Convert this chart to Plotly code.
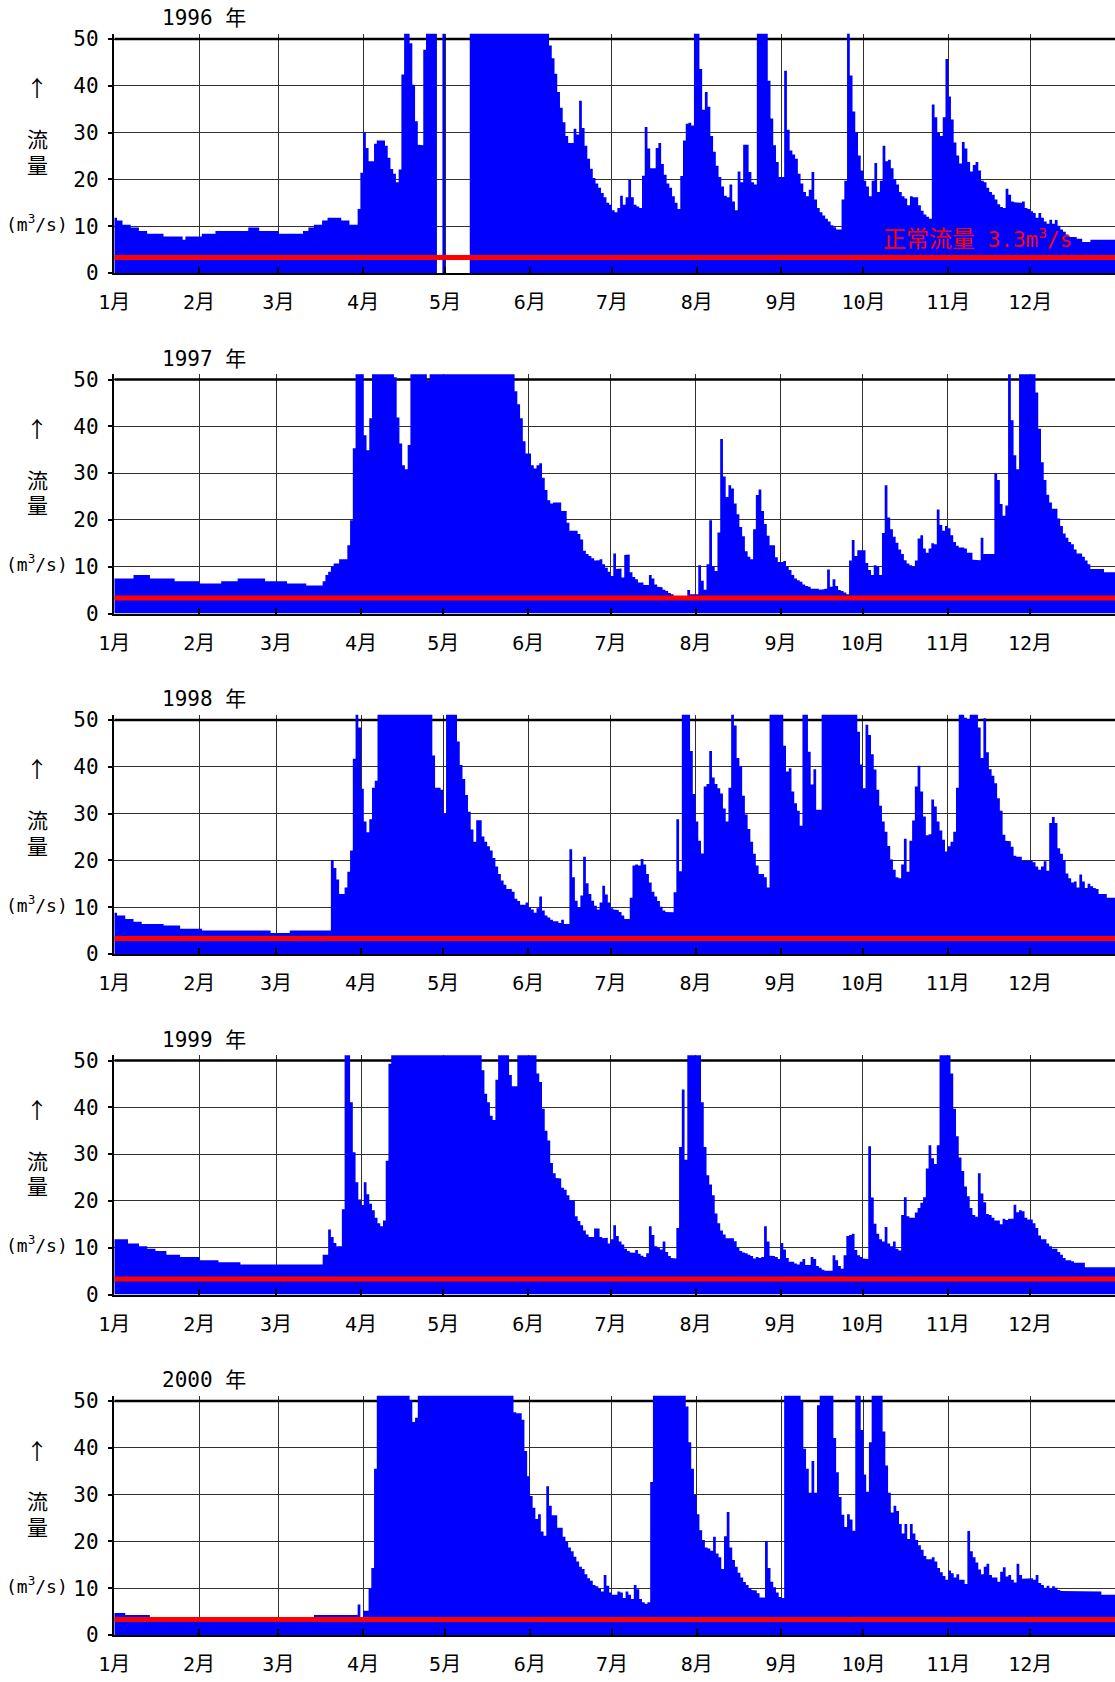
import calendar
import plotly.graph_objects as go

years = [1996, 1997, 1998, 1999, 2000]
month_labels = ["1月", "2月", "3月", "4月", "5月", "6月", "7月", "8月", "9月", "10月", "11月", "12月"]
y_ticks = [0, 10, 20, 30, 40, 50]
normal_flow = 3.3
normal_label = '<span style="font-family:Noto Sans CJK JP;font-size:23px">正常流量</span> 3.3m<sup>3</sup>/s'
y_title_parts = ["↑", "流", "量", "(m<sup>3</sup>/s)"]

# daily flow (m3/s), one list per month; values above 50 run off the chart
flow_1996 = [
    [11.8, 11.2, 11.2, 10.3, 10.3, 10.3, 9.7, 9.7, 9.7, 9.0, 9.0, 9.0, 8.4, 8.4, 8.4, 8.4, 8.4, 8.4, 7.8, 7.8, 7.8, 7.8, 7.8, 7.8, 7.8, 7.1, 7.8, 7.8, 7.8, 7.8, 7.8],
    [7.8, 8.4, 8.4, 8.4, 8.4, 8.4, 9.0, 9.0, 9.0, 9.0, 9.0, 9.0, 9.0, 9.0, 9.0, 9.0, 9.0, 9.0, 9.7, 9.7, 9.7, 9.7, 9.0, 9.0, 9.0, 9.0, 9.0, 9.0, 9.0],
    [8.4, 8.4, 8.4, 8.4, 8.4, 8.4, 8.4, 8.4, 8.4, 9.0, 9.0, 9.7, 9.7, 10.3, 10.3, 10.3, 11.2, 11.2, 11.8, 11.8, 11.8, 11.8, 11.8, 11.2, 11.2, 11.2, 10.3, 10.3, 10.3, 13.7, 21.4],
    [30.1, 26.7, 23.9, 23.9, 27.6, 28.3, 28.3, 28.3, 27.2, 24.6, 22.2, 21.2, 19.4, 22.1, 42.4, 55, 55, 49.1, 40.2, 32.4, 27.4, 27.3, 47.7, 55, 55, 55, 55, None, None, 55],
    [None, None, None, None, None, None, None, None, None, 55, 55, 55, 55, 55, 55, 55, 55, 55, 55, 55, 55, 55, 55, 55, 55, 55, 55, 55, 55, 55, 55],
    [55, 55, 55, 55, 55, 55, 55, 48.6, 45.9, 42.6, 38.7, 35.3, 32.2, 29.3, 27.8, 27.8, 30.8, 29.6, 36.8, 31.0, 27.2, 24.4, 22.3, 20.3, 19.1, 18.2, 17.1, 16.2, 15.0, 14.6],
    [13.4, 13.0, 13.9, 16.5, 14.6, 16.2, 19.9, 16.2, 14.6, 14.2, 13.9, 20.8, 31.2, 26.6, 22.4, 22.4, 26.7, 27.8, 23.3, 21.0, 19.1, 18.2, 16.4, 15.0, 13.7, 20.7, 28.3, 31.9, 32.1, 31.5, 55],
    [55, 43.6, 34.9, 38.7, 35.5, 29.3, 25.9, 22.9, 20.5, 18.5, 16.5, 16.2, 18.9, 15.3, 13.4, 21.7, 19.4, 27.4, 27.4, 21.6, 19.4, 18.9, 55, 55, 55, 55, 41.1, 33.0, 27.3, 23.7, 20.5],
    [20.5, 43.2, 30.6, 26.2, 25.3, 24.4, 21.2, 19.1, 17.3, 16.4, 17.8, 21.6, 15.7, 13.9, 13.0, 12.3, 11.6, 11.0, 10.2, 9.8, 9.3, 9.3, 15.7, 19.7, 55, 42.2, 34.5, 30.1, 25.1, 21.9],
    [19.7, 18.5, 16.4, 19.7, 23.5, 17.3, 19.7, 27.2, 23.9, 24.2, 22.4, 20.1, 18.9, 17.3, 16.4, 15.9, 14.5, 16.4, 16.2, 16.2, 14.5, 13.3, 12.5, 12.0, 11.6, 36.0, 33.3, 29.9, 29.3, 33.3, 45.7],
    [37.7, 32.8, 27.9, 25.1, 23.4, 28.0, 26.6, 23.7, 21.7, 23.1, 23.7, 21.9, 19.7, 19.4, 18.2, 17.3, 16.7, 15.7, 14.7, 14.1, 13.9, 18.0, 16.7, 15.3, 15.1, 15.1, 15.0, 15.3, 13.9, 13.7],
    [13.2, 12.8, 11.8, 12.8, 11.8, 11.0, 10.5, 11.4, 10.5, 11.3, 10.1, 9.3, 8.8, 8.2, 7.7, 7.7, 7.7, 7.3, 7.3, 6.6, 6.6, 6.6, 7.1, 7.1, 7.1, 7.1, 7.1, 7.1, 7.1, 7.1, 7.1],
]

flow_1997 = [
    [7.5, 7.5, 7.5, 7.5, 7.5, 7.5, 7.5, 8.2, 8.2, 8.2, 8.2, 8.2, 8.2, 7.5, 7.5, 7.5, 7.5, 7.5, 7.5, 7.5, 7.5, 7.5, 6.9, 6.9, 6.9, 6.9, 6.9, 6.9, 6.9, 6.9, 6.9],
    [6.4, 6.4, 6.4, 6.4, 6.4, 6.4, 6.4, 6.4, 6.9, 6.9, 6.9, 6.9, 6.9, 6.9, 7.5, 7.5, 7.5, 7.5, 7.5, 7.5, 7.5, 7.5, 7.5, 7.5, 6.9, 6.9, 6.9, 6.9],
    [6.9, 6.9, 6.9, 6.9, 6.4, 6.4, 6.4, 6.4, 6.4, 6.4, 6.4, 6.0, 6.0, 6.0, 6.0, 6.0, 6.0, 6.9, 8.2, 8.9, 10.1, 10.7, 10.7, 11.6, 11.6, 11.6, 14.6, 19.9, 35.3, 55, 55],
    [55, 38.1, 34.9, 41.7, 55, 55, 55, 55, 55, 55, 55, 55, 50.5, 41.9, 36.3, 31.7, 30.8, 36.0, 55, 55, 55, 55, 55, 55, 49.7, 55, 55, 55, 55, 55],
    [55, 55, 55, 55, 55, 55, 55, 55, 55, 55, 55, 55, 55, 55, 55, 55, 55, 55, 55, 55, 55, 55, 55, 55, 55, 55, 47.5, 44.7, 41.7, 36.8, 34.2],
    [34.2, 31.7, 31.0, 31.7, 32.1, 29.0, 26.4, 24.2, 23.5, 23.7, 23.7, 23.7, 21.9, 21.9, 19.4, 17.7, 17.7, 17.7, 17.0, 15.8, 13.4, 12.7, 12.3, 11.8, 11.3, 11.4, 11.6, 10.5, 9.8, 8.9],
    [8.0, 12.8, 9.5, 9.6, 7.7, 12.5, 12.6, 8.8, 7.8, 7.3, 6.6, 6.6, 6.1, 6.1, 8.2, 7.5, 6.2, 5.7, 5.6, 5.1, 4.8, 4.4, 4.1, 3.7, 3.6, 3.6, 3.6, 3.6, 5.0, 4.1, 4.1],
    [4.1, 10.3, 7.0, 5.1, 10.5, 19.9, 10.1, 9.1, 17.3, 37.3, 29.3, 24.9, 27.4, 26.7, 23.5, 21.2, 18.5, 16.5, 13.3, 12.1, 11.6, 18.0, 25.3, 26.5, 21.9, 19.1, 16.6, 14.6, 14.6, 12.0, 11.0],
    [11.0, 11.2, 10.0, 9.3, 8.2, 7.5, 7.1, 6.8, 6.2, 5.9, 5.7, 5.3, 5.3, 5.3, 5.1, 5.2, 5.3, 9.4, 5.7, 7.3, 5.9, 5.0, 4.8, 4.5, 4.1, 11.3, 15.7, 12.3, 13.5, 13.5],
    [13.5, 10.8, 9.3, 8.2, 10.3, 10.1, 8.2, 17.2, 27.4, 20.5, 18.0, 16.4, 15.1, 13.7, 12.7, 11.4, 10.7, 10.3, 10.0, 11.3, 16.0, 16.7, 13.9, 13.0, 13.9, 15.0, 14.8, 22.2, 18.9, 17.7, 18.7],
    [18.2, 16.7, 15.3, 14.5, 14.1, 14.1, 13.9, 13.0, 13.0, 11.5, 11.5, 11.4, 16.2, 12.7, 12.7, 12.8, 12.7, 29.9, 28.5, 23.4, 20.9, 23.1, 55, 41.3, 33.8, 30.8, 55, 55, 55, 55],
    [55, 55, 47.2, 39.5, 32.3, 28.5, 25.4, 23.7, 22.4, 22.4, 20.3, 18.7, 17.1, 16.2, 15.3, 14.8, 13.7, 12.8, 12.8, 12.1, 11.3, 10.5, 9.5, 9.5, 9.5, 9.5, 9.5, 8.8, 8.8, 8.8, 8.8],
]

flow_1998 = [
    [8.8, 8.2, 8.2, 8.2, 7.5, 7.5, 7.5, 6.9, 6.9, 6.9, 6.4, 6.4, 6.4, 6.4, 6.4, 6.4, 6.4, 6.4, 6.1, 6.1, 6.1, 6.1, 6.1, 6.1, 5.4, 5.4, 5.4, 5.4, 5.4, 5.4, 5.4],
    [5.4, 5.0, 5.0, 5.0, 5.0, 5.0, 5.0, 5.0, 5.0, 5.0, 5.0, 5.0, 5.0, 5.0, 5.0, 5.0, 5.0, 5.0, 5.0, 5.0, 5.0, 5.0, 5.0, 5.0, 5.0, 5.0, 4.5, 4.5],
    [4.5, 4.5, 4.5, 4.5, 4.5, 5.0, 5.0, 5.0, 5.0, 5.0, 5.0, 5.0, 5.0, 5.0, 5.0, 5.0, 5.0, 5.0, 5.0, 5.0, 20.1, 18.4, 15.9, 12.8, 12.8, 14.2, 17.6, 22.1, 41.7, 55, 48.4],
    [35.3, 28.3, 26.0, 28.8, 35.5, 37.0, 55, 55, 55, 55, 55, 55, 55, 55, 55, 55, 55, 55, 55, 55, 55, 55, 55, 55, 55, 55, 42.4, 35.5, 35.5, 35.1],
    [29.9, 55, 55, 55, 55, 45.4, 40.4, 37.4, 34.0, 30.4, 26.6, 24.0, 28.6, 28.6, 25.1, 24.0, 23.0, 22.1, 20.5, 18.7, 17.1, 15.7, 14.8, 13.9, 13.9, 13.3, 11.8, 11.3, 10.5, 10.5, 11.0],
    [10.0, 9.5, 8.8, 9.8, 12.3, 9.3, 8.2, 7.8, 7.3, 7.0, 7.0, 6.6, 7.3, 6.4, 6.4, 22.4, 16.4, 11.4, 10.0, 12.5, 20.8, 15.1, 12.8, 11.4, 10.3, 9.5, 11.0, 14.6, 12.7, 11.0],
    [9.8, 9.5, 9.4, 9.0, 8.2, 7.5, 7.5, 12.0, 18.9, 19.1, 18.9, 20.3, 19.1, 17.1, 15.3, 13.3, 12.3, 11.3, 10.1, 9.3, 9.0, 8.9, 8.9, 13.2, 28.8, 17.7, 55, 55, 55, 43.4, 34.2],
    [28.3, 24.2, 21.5, 35.8, 36.3, 43.4, 37.7, 36.3, 35.4, 34.3, 31.1, 28.3, 35.5, 55, 48.8, 41.9, 40.1, 33.8, 29.8, 26.7, 24.0, 21.4, 18.9, 17.1, 17.1, 16.4, 14.2, 55, 55, 55, 55],
    [55, 44.5, 39.0, 39.7, 34.7, 32.2, 30.6, 27.4, 55, 55, 43.2, 36.2, 39.5, 30.8, 30.8, 55, 55, 55, 55, 55, 55, 55, 55, 55, 55, 55, 55, 55, 47.5, 40.5],
    [35.4, 49.0, 46.8, 42.7, 39.4, 35.1, 31.7, 28.3, 26.1, 23.1, 20.2, 18.0, 16.4, 16.2, 19.1, 24.6, 17.6, 24.2, 28.5, 35.8, 40.2, 34.7, 29.4, 25.4, 25.6, 33.0, 31.5, 28.3, 26.4, 24.4, 21.9],
    [23.0, 24.0, 26.1, 35.5, 55, 55, 50.5, 50.1, 55, 55, 55, 48.4, 41.9, 50.4, 43.1, 39.5, 38.1, 36.5, 33.3, 30.6, 25.5, 24.2, 24.1, 22.9, 21.0, 20.8, 20.8, 19.9, 19.9, 19.9],
    [19.9, 19.6, 18.7, 18.0, 18.7, 19.8, 17.8, 28.0, 29.3, 28.0, 22.6, 21.4, 20.1, 17.2, 16.2, 15.3, 15.5, 14.2, 17.0, 15.5, 14.1, 15.0, 14.5, 14.1, 13.9, 12.8, 12.8, 12.8, 12.0, 12.0, 12.0],
]

flow_1999 = [
    [11.8, 11.8, 11.8, 11.8, 11.8, 10.9, 10.9, 10.9, 10.9, 10.3, 10.3, 10.3, 9.8, 9.8, 9.8, 9.3, 9.3, 9.3, 9.3, 8.5, 8.5, 8.5, 8.5, 8.5, 8.0, 8.0, 8.0, 8.0, 8.0, 8.0, 8.0],
    [7.3, 7.3, 7.3, 7.3, 7.3, 7.3, 7.3, 6.9, 6.9, 6.9, 6.9, 6.9, 6.9, 6.9, 6.9, 6.4, 6.4, 6.4, 6.4, 6.4, 6.4, 6.4, 6.4, 6.4, 6.4, 6.4, 6.4, 6.4],
    [6.4, 6.4, 6.4, 6.4, 6.4, 6.4, 6.4, 6.4, 6.4, 6.4, 6.4, 6.4, 6.4, 6.4, 6.4, 6.4, 6.4, 8.5, 8.5, 13.9, 12.3, 11.0, 10.3, 10.3, 18.2, 55, 55, 41.1, 30.4, 24.0, 20.3],
    [19.1, 24.0, 21.4, 19.4, 18.0, 16.4, 15.2, 14.6, 15.8, 28.6, 49.3, 55, 55, 55, 55, 55, 55, 55, 55, 55, 55, 55, 55, 55, 55, 55, 55, 55, 55, 55],
    [55, 55, 55, 55, 55, 55, 55, 55, 55, 55, 55, 55, 55, 55, 47.9, 42.9, 41.1, 38.2, 37.3, 45.9, 55, 55, 55, 55, 46.9, 44.5, 44.5, 55, 55, 55, 55],
    [55, 55, 55, 47.2, 45.4, 39.7, 35.0, 32.9, 28.1, 25.9, 24.9, 24.8, 22.8, 22.4, 21.2, 20.1, 20.1, 16.7, 15.7, 14.8, 13.7, 12.8, 12.3, 12.3, 14.1, 14.1, 12.3, 12.0, 12.1, 10.9],
    [11.8, 14.8, 12.5, 11.3, 10.7, 9.8, 9.3, 9.0, 8.9, 9.5, 8.7, 8.3, 8.0, 8.8, 14.6, 12.7, 10.3, 10.0, 9.6, 11.3, 9.1, 8.2, 7.8, 7.7, 14.2, 31.5, 43.8, 28.8, 55, 55, 55],
    [55, 55, 41.1, 31.5, 25.5, 23.5, 21.2, 17.3, 15.2, 13.7, 12.8, 12.0, 12.0, 12.0, 11.4, 10.1, 9.3, 9.0, 8.8, 8.5, 8.2, 7.7, 8.0, 7.8, 8.0, 14.6, 11.3, 8.3, 8.2, 8.0, 7.6],
    [11.0, 9.6, 7.8, 7.0, 7.0, 6.6, 6.4, 7.0, 7.6, 6.3, 6.3, 8.0, 7.6, 6.1, 5.7, 5.3, 5.1, 5.1, 5.1, 8.4, 7.3, 6.1, 5.5, 8.4, 12.5, 12.7, 13.0, 9.5, 8.4, 8.0],
    [7.7, 7.6, 31.7, 20.7, 15.1, 13.0, 11.8, 11.3, 14.4, 10.9, 10.3, 11.3, 9.8, 9.4, 17.0, 20.8, 16.7, 16.4, 16.4, 17.5, 18.5, 19.6, 20.8, 26.9, 31.9, 29.1, 27.9, 31.9, 55, 55, 55],
    [55, 47.2, 39.7, 33.8, 29.3, 26.4, 23.1, 21.0, 18.5, 17.0, 16.6, 25.9, 21.6, 19.7, 17.2, 17.0, 16.4, 15.8, 15.8, 15.0, 16.2, 15.9, 16.2, 16.2, 19.2, 17.6, 18.0, 17.8, 16.4, 16.0],
    [16.0, 15.2, 14.2, 12.6, 11.8, 11.8, 10.9, 10.3, 9.8, 9.8, 9.1, 8.5, 7.8, 7.3, 7.3, 7.1, 6.8, 6.8, 6.8, 6.8, 5.8, 5.8, 5.8, 5.8, 5.8, 5.8, 5.8, 5.8, 5.8, 5.8, 5.8],
]

flow_2000 = [
    [4.7, 4.7, 4.7, 4.7, 4.3, 4.3, 4.3, 4.3, 4.3, 4.3, 4.3, 4.3, 4.3, 3.4, 3.4, 3.4, 3.4, 3.4, 3.4, 3.4, 3.4, 3.4, 3.4, 3.4, 3.4, 3.4, 3.4, 3.4, 3.4, 3.4, 3.4],
    [3.4, 3.4, 3.4, 3.4, 3.4, 3.4, 3.4, 3.4, 3.4, 3.4, 3.4, 3.4, 3.4, 3.4, 3.4, 3.4, 3.4, 3.4, 3.4, 3.4, 3.4, 3.4, 3.4, 3.4, 3.4, 3.4, 3.4, 3.4, 3.4],
    [3.4, 3.4, 3.4, 3.4, 3.4, 3.4, 3.4, 3.4, 3.4, 3.4, 3.4, 3.4, 3.4, 4.3, 4.3, 4.3, 4.3, 4.3, 4.3, 4.3, 4.3, 4.3, 4.3, 4.3, 4.3, 4.3, 4.3, 4.3, 4.3, 6.5, 3.6],
    [5.2, 5.2, 10.0, 14.3, 35.5, 55, 55, 55, 55, 55, 55, 55, 55, 55, 55, 55, 55, 50.2, 45.5, 46.4, 55, 55, 55, 55, 55, 55, 55, 55, 55, 55],
    [55, 55, 55, 55, 55, 55, 55, 55, 55, 55, 55, 55, 55, 55, 55, 55, 55, 55, 55, 55, 55, 55, 55, 55, 55, 47.6, 47.4, 47.4, 46.0, 39.3, 33.9],
    [29.7, 27.2, 24.8, 25.8, 22.1, 21.2, 31.8, 27.6, 25.6, 25.6, 22.9, 22.9, 21.0, 19.9, 18.7, 17.9, 16.7, 15.7, 14.6, 14.1, 13.0, 12.1, 11.6, 10.7, 10.4, 9.9, 9.3, 12.8, 10.5, 9.1],
    [8.6, 8.6, 9.3, 9.1, 7.9, 9.3, 8.6, 7.7, 10.7, 9.8, 7.7, 7.0, 6.7, 7.0, 32.7, 55, 55, 55, 55, 55, 55, 55, 55, 55, 55, 55, 55, 48.8, 41.2, 35.5, 29.9],
    [25.8, 22.4, 20.3, 18.7, 18.5, 18.0, 21.0, 17.4, 16.6, 14.1, 21.1, 26.3, 18.7, 16.0, 14.6, 13.3, 12.3, 11.3, 10.7, 10.0, 9.6, 9.5, 8.9, 8.0, 8.0, 20.1, 14.3, 11.4, 10.2, 9.1, 8.1],
    [7.9, 55, 55, 55, 55, 55, 55, 50.0, 39.8, 35.5, 30.4, 37.2, 30.4, 49.1, 55, 55, 55, 55, 55, 42.1, 34.8, 29.5, 25.7, 23.1, 25.8, 24.7, 22.3, 55, 55, 43.8],
    [34.3, 30.6, 41.2, 55, 55, 55, 55, 43.5, 36.2, 30.4, 26.2, 27.6, 26.5, 23.7, 21.7, 23.7, 20.5, 23.7, 21.7, 20.3, 19.2, 18.2, 16.9, 16.2, 16.2, 16.6, 15.7, 14.3, 13.4, 12.6, 11.8],
    [13.8, 13.2, 12.3, 13.0, 11.8, 11.8, 10.9, 22.2, 17.9, 16.6, 15.5, 14.0, 13.0, 14.6, 15.2, 12.8, 12.3, 12.3, 11.4, 13.5, 14.5, 12.5, 12.8, 11.8, 11.2, 15.2, 12.8, 12.0, 12.0, 12.0],
    [12.1, 11.8, 12.8, 11.1, 10.7, 10.1, 10.5, 9.9, 10.4, 10.1, 9.6, 9.4, 9.3, 9.3, 9.3, 9.3, 9.3, 9.3, 9.3, 9.3, 9.3, 9.3, 9.3, 9.3, 9.3, 9.3, 8.6, 8.6, 8.6, 8.6, 8.6],
]

flows = {1996: flow_1996, 1997: flow_1997, 1998: flow_1998, 1999: flow_1999, 2000: flow_2000}

# sanity check of month lengths
problems = []
for yr in years:
    for m, vals in enumerate(flows[yr]):
        nd = calendar.monthrange(yr, m + 1)[1]
        if len(vals) != nd:
            problems.append(f"{yr}-{m + 1}: {len(vals)} vs {nd}")
if problems:
    raise ValueError("; ".join(problems))

W, H = 1115, 1682
X_LEFT = 114.3
TOP50 = [39.0 + 340.5 * k for k in range(5)]
PLOT_H50 = 234.0
HEAD = 5.3
Y_MAX = 50 * (PLOT_H50 + HEAD) / PLOT_H50
FONT = "DejaVu Sans Mono, Noto Sans CJK JP, sans-serif"
CJK = "Noto Sans CJK JP, sans-serif"


def py(p):
    return 1 - p / H


fig = go.Figure()
layout = dict(
    width=W, height=H,
    margin=dict(l=0, r=0, t=0, b=0, autoexpand=False),
    paper_bgcolor="white", plot_bgcolor="white",
    showlegend=False,
    font=dict(family=FONT, color="black", size=20),
)
annotations = []
shapes = []

for k, yr in enumerate(years):
    daily = [v for month in flows[yr] for v in month]
    ndays = len(daily)
    starts, acc = [], 0
    for m in range(12):
        starts.append(acc)
        acc += calendar.monthrange(yr, m + 1)[1]
    sfx = "" if k == 0 else str(k + 1)
    xa, ya = "x" + sfx, "y" + sfx

    # each day is drawn as a full-width column; days without data leave a gap
    segments, sx, sy = [], [], []
    for d, v in enumerate(daily):
        if v is None:
            if sx:
                segments.append((sx, sy))
            sx, sy = [], []
            continue
        sx += [d, d + 1]
        sy += [v, v]
    if sx:
        segments.append((sx, sy))
    for sx, sy in segments:
        fig.add_trace(go.Scatter(
            x=sx, y=sy, mode="lines", line=dict(width=0, color="#0000FF"),
            fill="tozeroy", fillcolor="#0000FF",
            xaxis=xa, yaxis=ya, hoverinfo="skip",
        ))
    fig.add_trace(go.Scatter(
        x=[0, ndays], y=[normal_flow, normal_flow], mode="lines",
        line=dict(color="#FF0000", width=5),
        xaxis=xa, yaxis=ya, hoverinfo="skip",
    ))

    zero_px = TOP50[k] + PLOT_H50
    top_px = TOP50[k] - HEAD
    layout["xaxis" + sfx] = dict(
        domain=[X_LEFT / W, 1.0], range=[0, ndays], anchor=ya,
        tickmode="array", tickvals=starts, ticktext=month_labels,
        ticks="inside", ticklen=6, tickwidth=2, tickcolor="black",
        showgrid=True, gridcolor="#303030", gridwidth=1,
        showline=True, linecolor="black", linewidth=2, zeroline=False,
        tickfont=dict(size=20, family=FONT, color="black"),
        ticklabelstandoff=10, fixedrange=True, automargin=False,
    )
    layout["yaxis" + sfx] = dict(
        domain=[py(zero_px), py(top_px)], range=[0, Y_MAX], anchor=xa,
        tickmode="array", tickvals=y_ticks,
        ticks="outside", ticklen=4, tickwidth=2, tickcolor="black",
        showgrid=True, gridcolor="#303030", gridwidth=1,
        showline=True, linecolor="black", linewidth=2.5, zeroline=False,
        tickfont=dict(size=21, family=FONT, color="black"),
        ticklabelstandoff=5, fixedrange=True, automargin=False,
    )
    shapes.append(dict(
        type="line", xref=xa, yref=ya, x0=0, x1=ndays, y0=50, y1=50,
        line=dict(color="black", width=2.5), layer="between",
    ))

    annotations.append(dict(
        text=f"{yr} 年", x=204 / W, y=py(TOP50[k] - 20.6), xref="paper", yref="paper",
        showarrow=False, xanchor="center", yanchor="middle",
        font=dict(size=21, family=FONT, color="black"),
    ))
    for txt, off, size, fam in zip(y_title_parts, [47.5, 101, 126.5, 183.7],
                                   [22, 21, 21, 18], [CJK, FONT, FONT, FONT]):
        annotations.append(dict(
            text=txt, x=37.0 / W, y=py(TOP50[k] + off), xref="paper", yref="paper",
            showarrow=False, xanchor="center", yanchor="middle",
            font=dict(size=size, family=fam, color="black"),
        ))

annotations.append(dict(
    text=normal_label, x=977 / W, y=py(TOP50[0] + 198.0), xref="paper", yref="paper",
    showarrow=False, xanchor="center", yanchor="middle",
    font=dict(size=21, family=FONT, color="#FF0000"),
))

layout["annotations"] = annotations
layout["shapes"] = shapes
fig.update_layout(**layout)

fig.write_html(
    "out.html",
    config={"displayModeBar": False, "staticPlot": True},
    post_script="document.body.style.margin='0px';document.body.style.padding='0px';document.body.style.overflow='hidden';",
)
